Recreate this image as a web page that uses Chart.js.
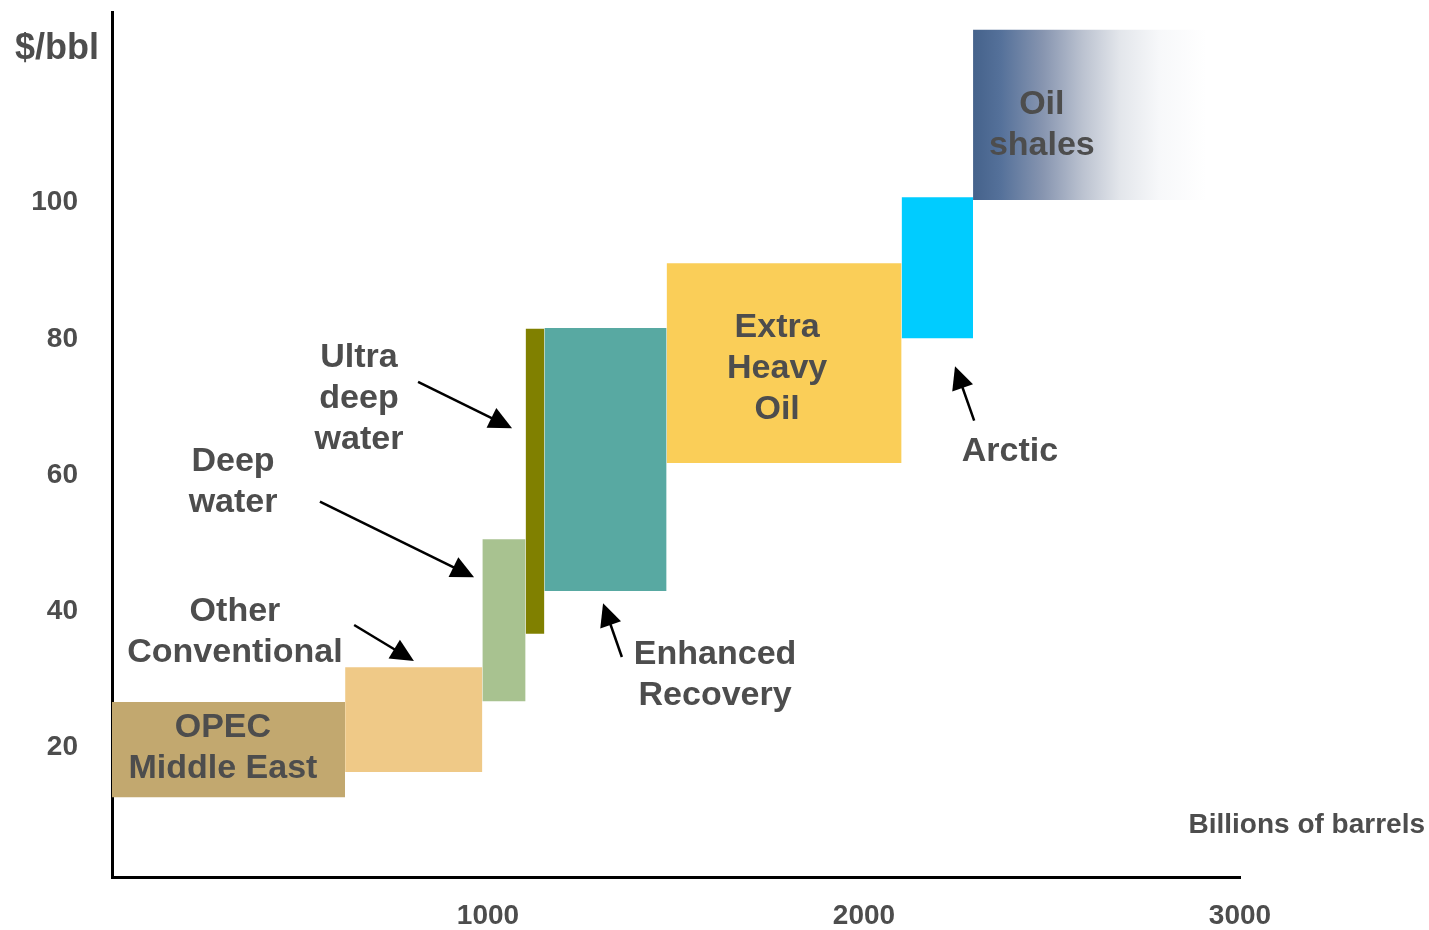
<!DOCTYPE html>
<html>
<head>
<meta charset="utf-8">
<title>Oil supply cost curve</title>
<script src="https://cdn.jsdelivr.net/npm/chart.js@4.4.1/dist/chart.umd.min.js"></script>
<style>
  html, body { margin: 0; padding: 0; background: #fff; }
  #wrap { width: 1429px; height: 930px; position: relative; }
</style>
</head>
<body>
<div id="wrap"><canvas id="costChart"></canvas></div>
<script>
  // resource blocks: cumulative volume (billion bbl) and production cost range ($/bbl)
  const resources  = ['OPEC Middle East', 'Other Conventional', 'Deep water', 'Ultra deep water',
                      'Enhanced Recovery', 'Extra Heavy Oil', 'Arctic', 'Oil shales'];
  const volumeFrom = [0, 620, 985, 1100, 1150, 1475, 2100, 2290];
  const volumeTo   = [620, 985, 1100, 1150, 1475, 2100, 2290, 2910];
  const costLow    = [12.7, 16.4, 26.8, 36.7, 43.0, 61.8, 80.1, 100.4];
  const costHigh   = [26.7, 31.8, 50.6, 81.5, 81.6, 91.1, 100.8, 125.4];
  const xTicks = [1000, 2000, 3000];
  const yTicks = [20, 40, 60, 80, 100];

  const blockColors = ['#C2A86F', '#EFC987', '#A8C290', '#808000', '#58A9A2', '#FACE58', '#00CCFF', 'gradient'];
  const TEXT = '#4D4D4D';
  const FONT = '"Liberation Sans", Arial, sans-serif';
  const LINE_H = 41;

  // text callouts, placed in axis units (centre of the text block)
  const callouts = [
    { lines: ['OPEC', 'Middle East'], x: 295, y: 19.9 },
    { lines: ['Other', 'Conventional'], x: 327, y: 37.0 },
    { lines: ['Deep', 'water'], x: 322, y: 59.0 },
    { lines: ['Ultra', 'deep', 'water'], x: 657, y: 71.2 },
    { lines: ['Enhanced', 'Recovery'], x: 1604, y: 30.6 },
    { lines: ['Extra', 'Heavy', 'Oil'], x: 1769, y: 75.6 },
    { lines: ['Arctic'], x: 2388, y: 63.5 },
    { lines: ['Oil', 'shales'], x: 2473, y: 111.4 }
  ];

  // pointer arrows, tail -> tip in axis units
  const arrows = [
    { from: [644, 38.0], to: [803, 32.7] },
    { from: [553, 56.1], to: [963, 45.0] },
    { from: [814, 73.7], to: [1064, 66.9] },
    { from: [1356, 33.3], to: [1306, 41.2] },
    { from: [2293, 68.0], to: [2242, 76.0] }
  ];

  function shaleGradient(ctx) {
    const chart = ctx.chart;
    if (!chart.chartArea) return '#45628B';
    const xs = chart.scales.x;
    const i = resources.length - 1;
    const g = chart.ctx.createLinearGradient(xs.getPixelForValue(volumeFrom[i]), 0, xs.getPixelForValue(volumeTo[i]), 0);
    g.addColorStop(0, '#45628B');
    g.addColorStop(0.12, '#55719A');
    g.addColorStop(0.3, '#8795B0');
    g.addColorStop(0.47, '#BBC2D0');
    g.addColorStop(0.63, '#E3E6EB');
    g.addColorStop(0.8, '#F7F8FA');
    g.addColorStop(1, '#FFFFFF');
    return g;
  }

  // each block is a flat line at the high cost, filled down to the low cost
  const datasets = resources.map((name, i) => ({
    label: name,
    data: [{ x: volumeFrom[i], y: costHigh[i] }, { x: volumeTo[i], y: costHigh[i] }],
    fill: { value: costLow[i] },
    backgroundColor: blockColors[i] === 'gradient' ? shaleGradient : blockColors[i],
    borderWidth: 0,
    borderColor: 'rgba(0,0,0,0)',
    pointRadius: 0,
    tension: 0
  }));

  const annotate = {
    id: 'annotate',
    afterDatasetsDraw(chart) {
      const { ctx, chartArea, scales: { x, y } } = chart;
      ctx.save();

      ctx.fillStyle = TEXT;
      ctx.font = 'bold 34px ' + FONT;
      ctx.textAlign = 'center';
      ctx.textBaseline = 'middle';
      callouts.forEach(c => {
        const cx = x.getPixelForValue(c.x);
        const top = y.getPixelForValue(c.y) - (c.lines.length - 1) * LINE_H / 2;
        c.lines.forEach((t, k) => ctx.fillText(t, cx, top + k * LINE_H));
      });

      ctx.strokeStyle = '#000';
      ctx.fillStyle = '#000';
      ctx.lineWidth = 2.5;
      arrows.forEach(a => {
        const x0 = x.getPixelForValue(a.from[0]), y0 = y.getPixelForValue(a.from[1]);
        const x1 = x.getPixelForValue(a.to[0]), y1 = y.getPixelForValue(a.to[1]);
        const ang = Math.atan2(y1 - y0, x1 - x0);
        const cos = Math.cos(ang), sin = Math.sin(ang);
        const head = 23, half = 11;
        const bx = x1 - head * cos, by = y1 - head * sin;
        ctx.beginPath();
        ctx.moveTo(x0, y0);
        ctx.lineTo(bx + 2 * cos, by + 2 * sin);
        ctx.stroke();
        ctx.beginPath();
        ctx.moveTo(x1, y1);
        ctx.lineTo(bx + half * sin, by - half * cos);
        ctx.lineTo(bx - half * sin, by + half * cos);
        ctx.closePath();
        ctx.fill();
      });

      // axis titles
      ctx.fillStyle = TEXT;
      ctx.font = 'bold 36px ' + FONT;
      ctx.textAlign = 'center';
      ctx.fillText('$/bbl', chartArea.left - 55, chartArea.top + 37);
      ctx.font = 'bold 28px ' + FONT;
      ctx.textAlign = 'right';
      ctx.fillText('Billions of barrels', chartArea.right + 185, chartArea.bottom - 52);
      ctx.restore();
    }
  };

  new Chart(document.getElementById('costChart'), {
    type: 'line',
    data: { datasets },
    plugins: [annotate],
    options: {
      responsive: true,
      maintainAspectRatio: false,
      animation: false,
      layout: { padding: { top: 12, right: 189, left: 0, bottom: 0 } },
      plugins: {
        legend: { display: false },
        tooltip: { enabled: false }
      },
      scales: {
        x: {
          type: 'linear',
          min: 0,
          max: 3000,
          grid: { display: false, drawTicks: false },
          border: { display: true, color: '#000', width: 3 },
          ticks: {
            color: TEXT,
            font: { family: FONT, size: 28, weight: 'bold' },
            padding: 22,
            maxRotation: 0,
            callback: v => String(v)
          },
          afterBuildTicks: s => { s.ticks = xTicks.map(v => ({ value: v })); },
          afterFit: s => { s.height = 53; s.paddingLeft = 0; s.paddingRight = 0; }
        },
        y: {
          type: 'linear',
          min: 1,
          max: 128,
          grid: { display: false, drawTicks: false },
          border: { display: true, color: '#000', width: 3 },
          ticks: {
            color: TEXT,
            font: { family: FONT, size: 28, weight: 'bold' },
            padding: 34,
            callback: v => String(v)
          },
          afterBuildTicks: s => { s.ticks = yTicks.map(v => ({ value: v })); },
          afterFit: s => { s.width = 112; s.paddingTop = 0; s.paddingBottom = 0; }
        }
      }
    }
  });
</script>
</body>
</html>
